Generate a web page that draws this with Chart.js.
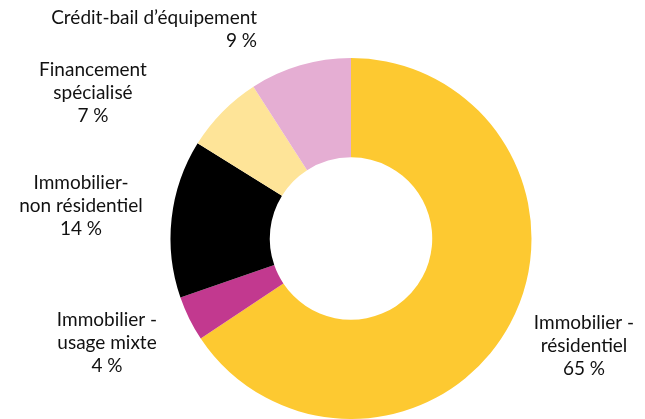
<!DOCTYPE html>
<html>
<head>
<meta charset="utf-8">
<script src="https://cdn.jsdelivr.net/npm/chart.js@4"></script>
<style>
  html, body { margin: 0; padding: 0; background: #fff; }
  .chart-container { width: 645px; height: 419px; }
</style>
</head>
<body>
<div class="chart-container">
  <canvas id="loanMixChart" style="width:100%; height:100%;"></canvas>
</div>
<script type="text/javascript">
  // categories, clockwise from 12 o'clock
  var categories = [
    ["Immobilier -", "résidentiel"],
    ["Immobilier -", "usage mixte"],
    ["Immobilier-", "non résidentiel"],
    ["Financement", "spécialisé"],
    ["Crédit-bail d\u2019équipement"]
  ];
  var shares = [65, 4, 14, 7, 9];
  var colors = ["#fdc931", "#c2398f", "#000000", "#fee498", "#e5aed3"];

  // where each label block sits: [x, y of first line, align]
  var labelPlaces = [
    [584, 323, "center"],
    [107, 320, "center"],
    [81, 183, "center"],
    [93, 70, "center"],
    [257, 18, "right"]
  ];

  var outsideLabels = {
    id: "outsideLabels",
    afterDraw: function (chart) {
      var ctx = chart.ctx;
      ctx.save();
      ctx.fillStyle = "#111";
      ctx.font = "19px Lato";
      ctx.textBaseline = "middle";
      chart.data.labels.forEach(function (lines, i) {
        var p = labelPlaces[i];
        ctx.textAlign = p[2];
        var all = lines.concat([shares[i] + " %"]);
        all.forEach(function (t, k) {
          ctx.fillText(t, p[0], p[1] + k * 23);
        });
      });
      ctx.restore();
    }
  };

  var chart = new Chart("loanMixChart", {
    type: "doughnut",
    data: {
      labels: categories,
      datasets: [
        {
          data: shares,
          backgroundColor: colors,
          borderWidth: 0
        }
      ]
    },
    options: {
      responsive: true,
      maintainAspectRatio: false,
      animation: false,
      cutout: "45%",
      layout: {
        padding: { left: 170, right: 113, top: 58, bottom: 0 }
      },
      plugins: {
        legend: { display: false },
        tooltip: { enabled: false }
      }
    },
    plugins: [outsideLabels]
  });
</script>
</body>
</html>
